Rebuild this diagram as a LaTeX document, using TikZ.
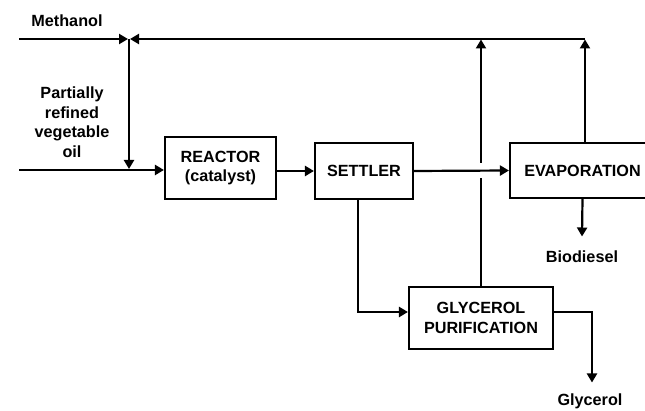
\documentclass[tikz,border=0pt]{standalone}
\usepackage{fontspec}
\setmainfont{Liberation Sans}
\usetikzlibrary{arrows.meta,positioning}

\begin{document}
\begin{tikzpicture}[x=1pt, y=-1pt,
    font=\fontsize{16.2}{19.5}\selectfont\bfseries,
    unit/.style 2 args={draw, line width=1.1pt, minimum width=#1, minimum height=#2,
                        inner sep=0pt, align=center},
    line/.style={line width=2.2pt},
    flow/.style={line width=2.2pt, -{Triangle[length=9pt,width=10pt]}, shorten >=0.5pt}]
    \useasboundingbox (0,0) rectangle (645,411);
    \clip (0,0) rectangle (645,411);
    % Units
    \node[unit={111}{62}] (reactor) at (220.5,168) {REACTOR\\(catalyst)};
    \node[unit={98}{56}] (settler) at (364,171) {SETTLER};
    \node[unit={145}{55}] (evap) at (582.5,170.5) {EVAPORATION};
    \node[unit={144}{62}] (glyc) at (481,318) {GLYCEROL\\PURIFICATION};
    % Labels
    \node (methanol) at (67,21) {Methanol};
    \node[align=center] (oil) at (72,122) {Partially\\refined\\vegetable\\oil};
    \node (biodiesel) at (582,257) {Biodiesel};
    \node (glycerol) at (590,401) {Glycerol};
    % Points
    \coordinate (methin) at (19,39);
    \coordinate (oilin) at (19,170);
    \coordinate (mix) at (129,39);
    \coordinate (mixdown) at (129,170);
    \coordinate (rtop) at (585,39);
    \coordinate (gtop) at (481,39);
    \coordinate (gaptop) at (481,163);
    \coordinate (gapbot) at (481,178);
    \coordinate (sep) at (358,312);
    \coordinate (gout) at (592,312);
    \coordinate (gend) at (592,383);
    \coordinate (bioend) at (582,237);
    % Feeds
    \draw[flow, shorten >=1pt] (methin) -- (mix);
    \draw[flow, shorten >=1pt] (mix) -- (mixdown);
    \draw[flow] (oilin) -- (oilin -| reactor.west);
    % Main line
    \draw[flow] (settler.west -| reactor.east) -- (settler.west);
    \draw[flow] (settler.east) -- (evap.west);
    \draw[flow] (evap.south) -- (bioend);
    \draw[flow] (settler.south -| sep) -- (sep) -- (sep -| glyc.west);
    \draw[flow] (gout -| glyc.east) -- (gout) -- (gend);
    % Methanol recycle
    \draw[flow] (evap.north -| rtop) -- (rtop);
    \draw[flow, shorten >=1pt] (rtop) -- (mix);
    \draw[line] (glyc.north) -- (gapbot);
    \draw[flow] (gaptop) -- (gtop);
\end{tikzpicture}
\end{document}
